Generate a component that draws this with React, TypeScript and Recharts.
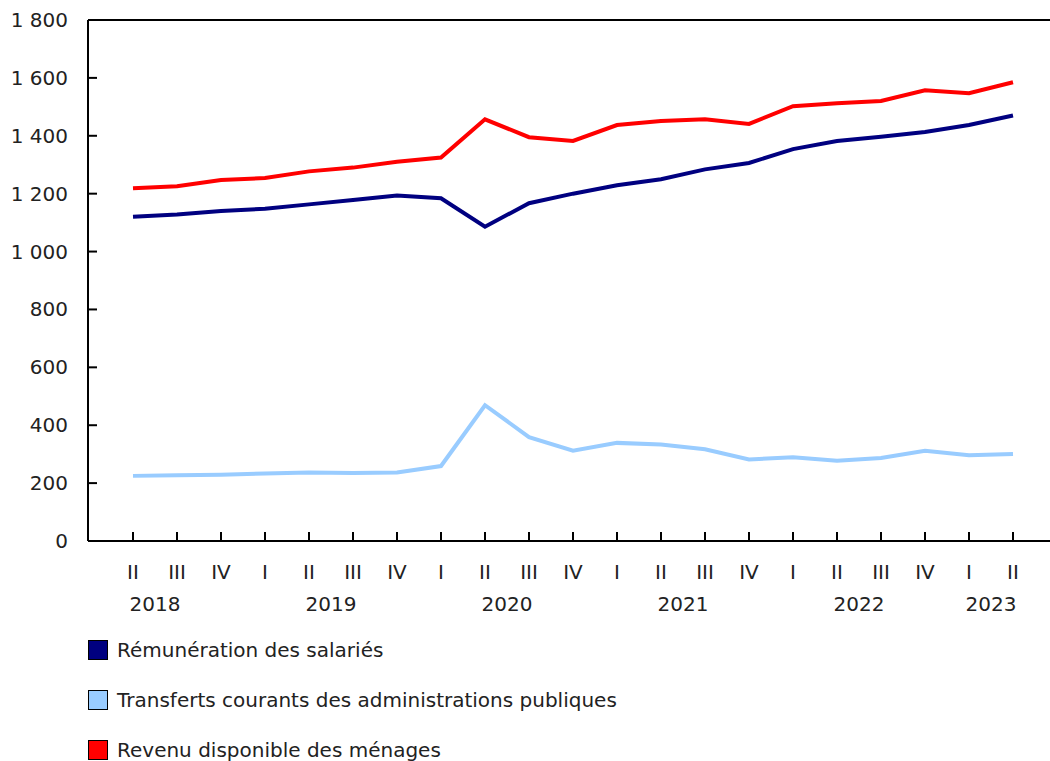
import { LineChart, Line, XAxis, YAxis, ReferenceLine } from 'recharts';

// Quarters from II 2018 to II 2023
const quarters = ['II', 'III', 'IV', 'I', 'II', 'III', 'IV', 'I', 'II', 'III', 'IV', 'I', 'II', 'III', 'IV', 'I', 'II', 'III', 'IV', 'I', 'II'];
const years = ['2018', '2018', '2018', '2019', '2019', '2019', '2019', '2020', '2020', '2020', '2020', '2021', '2021', '2021', '2021', '2022', '2022', '2022', '2022', '2023', '2023'];

const remuneration = [1120, 1128, 1140, 1148, 1163, 1178, 1194, 1184, 1086, 1167, 1200, 1229, 1250, 1284, 1306, 1354, 1382, 1397, 1413, 1437, 1470];
const transferts = [225, 227, 229, 233, 237, 235, 237, 259, 469, 359, 312, 339, 333, 317, 282, 289, 277, 287, 312, 296, 301];
const revenu = [1219, 1226, 1247, 1254, 1277, 1290, 1310, 1325, 1457, 1395, 1382, 1437, 1451, 1457, 1441, 1502, 1512, 1520, 1557, 1547, 1585];

const yTicks = [0, 200, 400, 600, 800, 1000, 1200, 1400, 1600, 1800];

const series = [
  { key: 'remuneration', name: 'Rémunération des salariés', color: '#000080' },
  { key: 'transferts', name: 'Transferts courants des administrations publiques', color: '#99CCFF' },
  { key: 'revenu', name: 'Revenu disponible des ménages', color: '#FF0000' },
];

const data = quarters.map((q, i) => ({
  id: i,
  quarter: q,
  year: years[i],
  remuneration: remuneration[i],
  transferts: transferts[i],
  revenu: revenu[i],
}));

const FONT = 'Verdana, "DejaVu Sans", sans-serif';
const FS = 20;

function formatNumber(v: number) {
  return String(v).replace(/\B(?=(\d{3})+(?!\d))/g, ' ');
}

function YTick(props: any) {
  const { x, y, payload } = props;
  return (
    <g>
      <line x1={x} y1={y} x2={x + 9} y2={y} stroke="#000" strokeWidth={2} />
      <text x={x - 20} y={y} dy={7} textAnchor="end" fontSize={FS} fontFamily={FONT} fill="#222">
        {formatNumber(payload.value)}
      </text>
    </g>
  );
}

function XTick(props: any) {
  const { x, y, payload, index } = props;
  const d = data[payload.value];
  const last = index === data.length - 1;
  // year label goes under the 2nd quarter (between I and II for the last year)
  const showYear = d.quarter === 'II';
  const yearX = last ? x - 22 : x + 22;
  return (
    <g>
      <line x1={x} y1={y} x2={x} y2={y - 9} stroke="#000" strokeWidth={2} />
      <text x={x} y={y + 38} textAnchor="middle" fontSize={FS} fontFamily={FONT} fill="#222">
        {d.quarter}
      </text>
      {showYear && (
        <text x={yearX} y={y + 70} textAnchor="middle" fontSize={FS} fontFamily={FONT} fill="#222">
          {d.year}
        </text>
      )}
    </g>
  );
}

export default function App() {
  return (
    <div style={{ position: 'absolute', left: 0, top: 0, width: 1050, height: 761, background: '#fff' }}>
      <LineChart width={1050} height={761} data={data} margin={{ top: 20, right: 0, left: 0, bottom: 160 }}>
        <XAxis
          dataKey="id"
          height={60}
          padding={{ left: 45, right: 37 }}
          tick={<XTick />}
          tickLine={false}
          tickSize={0}
          tickMargin={0}
          interval={0}
          axisLine={{ stroke: '#000', strokeWidth: 2 }}
        />
        <YAxis
          width={88}
          domain={[0, 1800]}
          ticks={yTicks}
          tick={<YTick />}
          tickLine={false}
          tickSize={0}
          tickMargin={0}
          axisLine={{ stroke: '#000', strokeWidth: 2 }}
        />
        <ReferenceLine y={1800} stroke="#000" strokeWidth={2} />
        {series.map((s) => (
          <Line
            key={s.key}
            type="linear"
            dataKey={s.key}
            name={s.name}
            stroke={s.color}
            strokeWidth={4}
            dot={false}
            activeDot={false}
            isAnimationActive={false}
          />
        ))}
      </LineChart>
      <div style={{ position: 'absolute', left: 88, top: 640, fontFamily: FONT, fontSize: FS, color: '#222' }}>
        {series.map((s) => (
          <div key={s.key} style={{ display: 'flex', alignItems: 'center', height: 20, marginBottom: 30, whiteSpace: 'nowrap' }}>
            <span
              style={{
                display: 'inline-block',
                width: 18,
                height: 18,
                background: s.color,
                border: '1px solid #000',
                marginRight: 9,
              }}
            />
            <span>{s.name}</span>
          </div>
        ))}
      </div>
    </div>
  );
}
